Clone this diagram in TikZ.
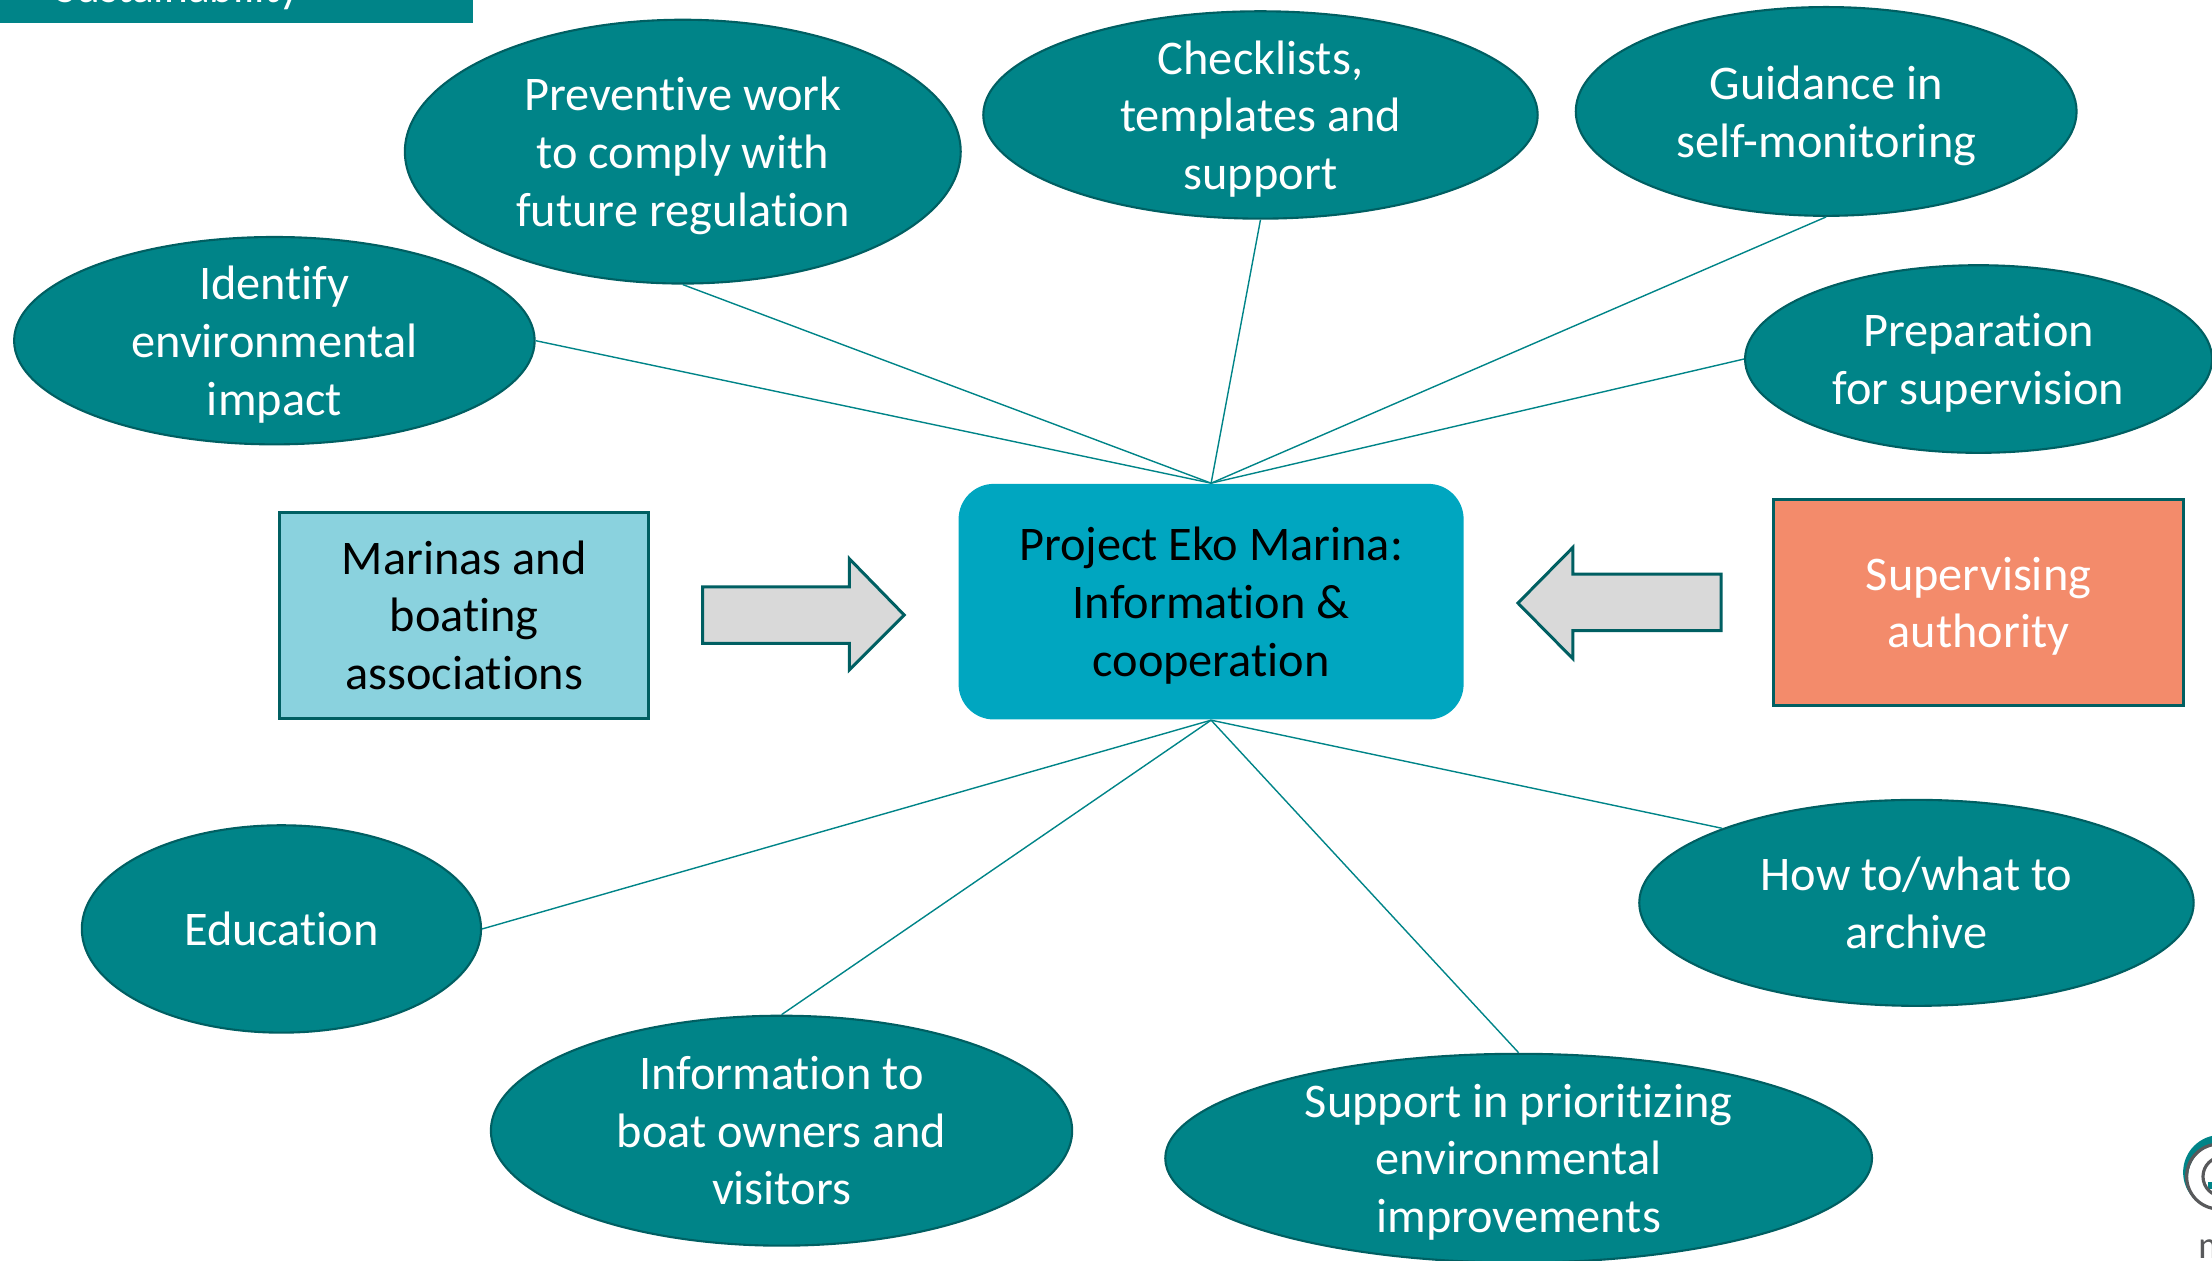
\documentclass[tikz,border=0pt]{standalone}
\usepackage{fontspec}
\setmainfont[Ligatures=NoCommon]{Carlito}
\definecolor{tealfill}{HTML}{008488}
\definecolor{tealedge}{HTML}{005F62}
\definecolor{hubfill}{HTML}{00A6C0}
\definecolor{marfill}{HTML}{8AD2DE}
\definecolor{supfill}{HTML}{F38B6B}
\definecolor{arrowfill}{HTML}{D9D9D9}
\definecolor{logogray}{HTML}{58595B}
\newlength{\unitpx}\setlength{\unitpx}{0.14107mm}
\newcommand{\lastln}[1]{\raisebox{0pt}[\height][0pt]{#1}}
\tikzset{
  x=0.14107mm,y=-0.14107mm,
  bodytext/.style={font=\fontsize{13.75pt}{16.4pt}\selectfont,align=center,inner sep=0pt},
  ell/.style 2 args={ellipse,draw=tealedge,line width=0.6pt,fill=tealfill,text=white,bodytext,
    inner ysep=-9pt,minimum width=#1*\unitpx,minimum height=#2*\unitpx},
  boxed/.style 2 args={rectangle,draw=tealedge,line width=0.85pt,bodytext,
    minimum width=#1*\unitpx,minimum height=#2*\unitpx},
  spoke/.style={draw=tealfill,line width=0.4pt},
  blockarrow/.style={draw=tealedge,line width=0.85pt,fill=arrowfill,line join=miter},
}
\usetikzlibrary{shapes.geometric}
\begin{document}
\begin{tikzpicture}
\clip (0,0) rectangle (1568,893.2);
% banner
\fill[tealfill] (0,-5) rectangle (335,16);
\node[anchor=base west,text=white,inner sep=0pt,font=\fontsize{12.9pt}{15pt}\selectfont] (banner) at (39,2) {Sustainability};
% hub
\node[rectangle,rounded corners=25*\unitpx,fill=hubfill,text=black,bodytext,
  minimum width=358*\unitpx,minimum height=167*\unitpx] (hub) at (858.5,426.5)
  {Project Eko Marina:\\Information \&\\\lastln{cooperation}};
% ellipses
\node[ell={394}{187}] (prev) at (484,107.5) {Preventive work\\to comply with\\\lastln{future regulation}};
\node[ell={393}{147}] (check) at (893.5,81.5) {Checklists,\\templates and\\\lastln{support}};
\node[ell={355}{148}] (guide) at (1294.5,79) {Guidance in\\\lastln{self-monitoring}};
\node[ell={369}{147}] (ident) at (194.5,241.5) {Identify\\environmental\\\lastln{impact}};
\node[ell={331}{133}] (prep) at (1402.5,254.5) {Preparation\\\lastln{for supervision}};
\node[ell={283}{147}] (edu) at (199.5,658.5) {Education};
\node[ell={412}{163}] (info) at (554,801.5) {Information to\\boat owners and\\visitors};
\node[ell={501}{148}] (supp) at (1076.5,821) {Support in prioritizing\\environmental\\\lastln{improvements}};
\node[ell={393}{146}] (howto) at (1358.5,640) {How to/what to\\archive};
% boxes
\node[boxed={262}{146},fill=marfill,text=black] (mar) at (329,436) {Marinas and\\boating\\associations};
\node[boxed={291}{146},fill=supfill,text=white] (sup) at (1402.5,427) {Supervising\\\lastln{authority}};
% spokes
\draw[spoke] (hub.north) -- (prev.south);
\draw[spoke] (hub.north) -- (check.south);
\draw[spoke] (hub.north) -- (guide.south);
\draw[spoke] (hub.north) -- (ident.east);
\draw[spoke] (hub.north) -- (prep.west);
\draw[spoke] (hub.south) -- (edu.east);
\draw[spoke] (hub.south) -- (info.north);
\draw[spoke] (hub.south) -- (supp.north);
\draw[spoke] (hub.south) -- (howto.159);
% block arrows
\draw[blockarrow] (498,416) -- (602,416) -- (602,396) -- (641,436) -- (602,475) -- (602,456) -- (498,456) -- cycle;
\draw[blockarrow] (1220,407) -- (1115,407) -- (1115,388) -- (1076,427.5) -- (1115,467) -- (1115,447) -- (1220,447) -- cycle;
% logo
\fill[tealfill] (1574,831) circle (26.5);
\fill[white] (1575.5,835) circle (24.5);
\draw[logogray,line width=0.9pt] (1573,834) circle (23);
\fill[tealfill] (1565,838) rectangle (1569,843);
\draw[logogray,line width=0.9pt] (1575.6,834) circle (14);
\node[anchor=base west,text=logogray,inner sep=0pt,font=\fontsize{11pt}{13pt}\selectfont] (logotext) at (1558,892) {m};
\end{tikzpicture}
\end{document}
